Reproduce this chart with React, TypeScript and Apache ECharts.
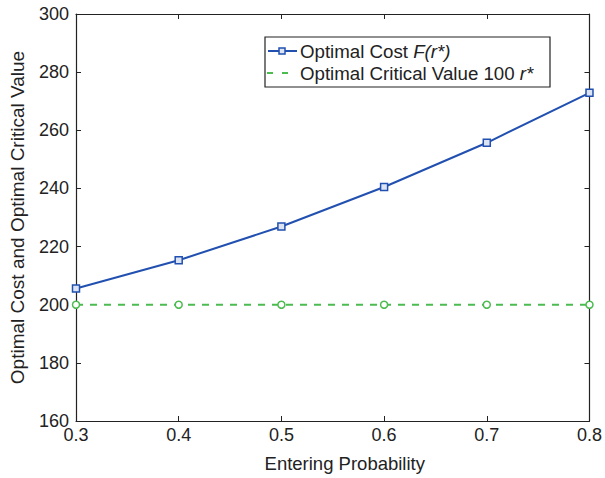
import React, { useEffect, useRef } from "react";
import * as echarts from "echarts";

const xValues = [0.3, 0.4, 0.5, 0.6, 0.7, 0.8];
const optimalCost = [205.6, 215.3, 226.9, 240.5, 255.7, 272.9];
const criticalValue = [200, 200, 200, 200, 200, 200];
const legendLabels = ["Optimal Cost {it|F(r*)}", "Optimal Critical Value 100 {it|r*}"];

const FONT = "Liberation Sans, Arial, Helvetica, sans-serif";
const BLUE = "#2150b0";
const GREEN = "#4cbb50";

export default function App() {
  const ref = useRef<HTMLDivElement>(null);
  useEffect(() => {
    if (!ref.current) return;
    const chart = echarts.init(ref.current, null, { renderer: "svg" });
    const axisCommon = {
      axisLine: { show: true, onZero: false, lineStyle: { color: "#222", width: 1.2 } },
      axisTick: { show: true, inside: true, length: 5, lineStyle: { color: "#222" } },
      splitLine: { show: false },
    };
    const textRich = { it: { fontStyle: "italic", fontFamily: FONT, fontSize: 18.7, fill: "#222" } };
    chart.setOption({
      animation: false,
      backgroundColor: "#fff",
      textStyle: { fontFamily: FONT },
      grid: { left: 75, right: 12, top: 14, bottom: 55 },
      graphic: [
        {
          type: "rect",
          shape: { x: 265, y: 37, width: 285, height: 50 },
          style: { fill: "#fff", stroke: "#222", lineWidth: 1.2 },
          z: 100,
        },
        {
          type: "line",
          shape: { x1: 268, y1: 51, x2: 297, y2: 51 },
          style: { stroke: BLUE, lineWidth: 2 },
          z: 101,
        },
        {
          type: "rect",
          shape: { x: 279, y: 48, width: 6, height: 6 },
          style: { fill: "#dce4f4", stroke: BLUE, lineWidth: 1.5 },
          z: 102,
        },
        {
          type: "line",
          shape: { x1: 267, y1: 73, x2: 297, y2: 73 },
          style: { stroke: GREEN, lineWidth: 2, lineDash: [6, 9] },
          z: 101,
        },
        {
          type: "text",
          x: 300,
          y: 51,
          style: {
            text: legendLabels[0],
            fontFamily: FONT,
            fontSize: 18.7,
            fill: "#222",
            verticalAlign: "middle",
            rich: textRich,
          },
          z: 101,
        },
        {
          type: "text",
          x: 300,
          y: 73,
          style: {
            text: legendLabels[1],
            fontFamily: FONT,
            fontSize: 18.7,
            fill: "#222",
            verticalAlign: "middle",
            rich: textRich,
          },
          z: 101,
        },
      ],
      xAxis: [
        {
          type: "value",
          min: 0.3,
          max: 0.8,
          interval: 0.1,
          name: "Entering Probability",
          nameLocation: "middle",
          nameGap: 33,
          nameTextStyle: { fontFamily: FONT, fontSize: 18.5, color: "#222", padding: [0, 0, 0, 24] },
          axisLabel: {
            fontFamily: FONT,
            fontSize: 18,
            color: "#222",
            margin: 5,
            formatter: (v: number) => v.toFixed(1),
          },
          ...axisCommon,
        },
        {
          type: "value",
          position: "top",
          min: 0.3,
          max: 0.8,
          interval: 0.1,
          axisLabel: { show: false },
          ...axisCommon,
        },
      ],
      yAxis: [
        {
          type: "value",
          min: 160,
          max: 300,
          interval: 20,
          name: "Optimal Cost and Optimal Critical Value",
          nameLocation: "middle",
          nameGap: 49,
          nameTextStyle: { fontFamily: FONT, fontSize: 19, color: "#222" },
          axisLabel: { fontFamily: FONT, fontSize: 18, color: "#222", margin: 7 },
          ...axisCommon,
        },
        {
          type: "value",
          position: "right",
          min: 160,
          max: 300,
          interval: 20,
          axisLabel: { show: false },
          ...axisCommon,
        },
      ],
      series: [
        {
          name: "cost",
          type: "line",
          data: xValues.map((x, i) => [x, optimalCost[i]]),
          symbol: "rect",
          symbolSize: 7,
          showAllSymbol: true,
          lineStyle: { color: BLUE, width: 2 },
          itemStyle: { color: "#dce4f4", borderColor: BLUE, borderWidth: 1.5 },
          clip: false,
        },
        {
          name: "crit",
          type: "line",
          data: xValues.map((x, i) => [x, criticalValue[i]]),
          symbol: "circle",
          symbolSize: 7,
          showAllSymbol: true,
          lineStyle: { color: GREEN, width: 2, type: [7, 7] },
          itemStyle: { color: "#fff", borderColor: GREEN, borderWidth: 1.5 },
          clip: false,
        },
      ],
    });
    return () => chart.dispose();
  }, []);
  return <div ref={ref} style={{ width: 605, height: 478, position: "absolute", left: 0, top: 0 }} />;
}
